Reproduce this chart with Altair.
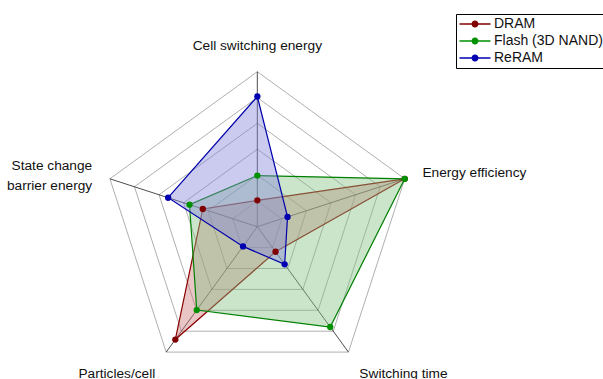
import altair as alt
import pandas as pd

# ---------------- data ----------------
categories = ["Cell switching energy", "Energy efficiency", "Switching time",
              "Particles/cell", "State change\nbarrier energy"]
series = ["DRAM", "Flash (3D NAND)", "ReRAM"]
dram = [0.17, 1.0, 0.20, 0.90, 0.37]
flash = [0.33, 1.0, 0.80, 0.665, 0.46]
reram = [0.84, 0.205, 0.30, 0.157, 0.605]
ring_levels = [1 / 6, 2 / 6, 3 / 6, 4 / 6, 5 / 6, 1.0]

line_colors = ["#8b0000", "#008000", "#0000aa"]
fill_colors = ["#cd7575", "#82c082", "#8282d9"]
point_colors = ["#800000", "#009000", "#0000b0"]

N = len(categories)
FONT = "Liberation Sans"

poly_rows = []
for s, vals in zip(series, [dram, flash, reram]):
    for k in range(N + 1):
        poly_rows.append({"series": s, "idx": k, "value": vals[k % N]})
poly_df = pd.DataFrame(poly_rows)

ring_rows = [{"level": lv, "idx": k} for lv in ring_levels for k in range(N + 1)]
ring_df = pd.DataFrame(ring_rows)

spoke_df = pd.DataFrame({"idx": list(range(N)), "value": [1.0] * N})
label_df = pd.DataFrame({"text": categories, "idx": list(range(N))})

angle_expr = f"PI/2 - datum.idx*2*PI/{N}"

xs = alt.Scale(domain=[-1.660, 2.230], nice=False, zero=False)
ys = alt.Scale(domain=[-0.9826, 1.4626], nice=False, zero=False)
X = alt.X("x:Q", scale=xs, axis=None)
Y = alt.Y("y:Q", scale=ys, axis=None)

rings = alt.Chart(ring_df).transform_calculate(
    angle=angle_expr
).transform_calculate(
    x="datum.level*cos(datum.angle)", y="datum.level*sin(datum.angle)"
).mark_line(stroke="#9a9a9a", strokeWidth=0.8).encode(
    x=X, y=Y, detail="level:O", order="idx:Q"
)

spokes = alt.Chart(spoke_df).transform_calculate(
    angle=angle_expr
).transform_calculate(
    x="datum.value*cos(datum.angle)", y="datum.value*sin(datum.angle)",
    x0="0", y0="0"
).mark_rule(stroke="#202020", strokeWidth=0.8).encode(
    x=alt.X("x0:Q", scale=xs, axis=None), y=alt.Y("y0:Q", scale=ys, axis=None),
    x2="x:Q", y2="y:Q"
)

poly_base = alt.Chart(poly_df).transform_calculate(
    angle=angle_expr
).transform_calculate(
    x="datum.value*cos(datum.angle)", y="datum.value*sin(datum.angle)"
)

# stroke / fill scales use the data-derived (alphabetical) domain, which is the
# same order as `series`, so they are not merged with the colour legend
polys = poly_base.mark_line(strokeWidth=1.2, fillOpacity=0.42).encode(
    x=X, y=Y, order="idx:Q",
    stroke=alt.Stroke("series:N", scale=alt.Scale(range=line_colors), legend=None),
    fill=alt.Fill("series:N", scale=alt.Scale(range=fill_colors), legend=None),
)

legend_symbol = ("M-3.1,-0.14L3.1,-0.14L3.1,0.14L-3.1,0.14Z "
                 "M0.7,0A0.7,0.7 0 1 1 -0.7,0A0.7,0.7 0 1 1 0.7,0Z")

points = poly_base.transform_filter(f"datum.idx < {N}").mark_point(
    filled=True, size=40, opacity=1
).encode(
    x=X, y=Y,
    color=alt.Color(
        "series:N",
        scale=alt.Scale(domain=series, range=point_colors),
        legend=alt.Legend(
            title=None, orient="none", legendX=456, legendY=14,
            symbolType=legend_symbol, symbolSize=100, symbolOffset=9,
            labelOffset=12, labelFontSize=14, labelFont=FONT, labelColor="#111",
            labelLimit=300, padding=3, strokeColor="black", fillColor="white",
            rowPadding=3, symbolOpacity=1,
        ),
    ),
)

r_label = 1.12
label_base = alt.Chart(label_df).transform_calculate(
    angle=angle_expr
).transform_calculate(
    c="cos(datum.angle)", s="sin(datum.angle)"
).transform_calculate(
    x=f"{r_label}*datum.c", y=f"{r_label}*datum.s"
)


def label_layer(cond, align, baseline, dy=0):
    return label_base.transform_filter(cond).mark_text(
        align=align, baseline=baseline, fontSize=13.7, font=FONT, color="#111",
        lineBreak="\n", lineHeight=20, dy=dy
    ).encode(x=X, y=Y, text="text:N")


labels = [
    label_layer("abs(datum.c) < 0.2", "center", "bottom"),
    label_layer("datum.c >= 0.2 && datum.s >= -0.5", "left", "middle"),
    label_layer("datum.c >= 0.2 && datum.s < -0.5", "left", "top"),
    label_layer("datum.c <= -0.2 && datum.s < -0.5", "right", "top"),
    label_layer("datum.c <= -0.2 && datum.s >= -0.5", "right", "middle", dy=-7),
]

chart = alt.layer(rings, spokes, polys, points, *labels).properties(
    width=603, height=379, autosize=alt.AutoSizeParams(type="none"), padding=0
).configure_view(stroke=None)

chart.save("out.html", embed_options={"renderer": "svg", "actions": False})
